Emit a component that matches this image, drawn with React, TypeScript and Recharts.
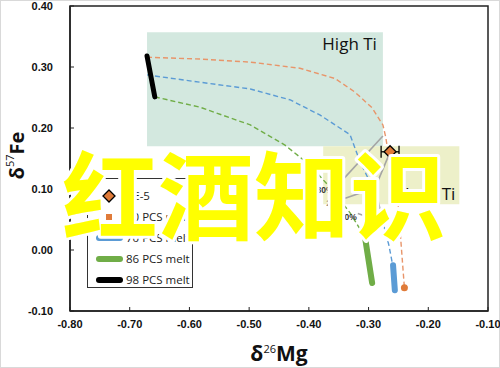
import {
  ComposedChart,
  Line,
  Scatter,
  XAxis,
  YAxis,
  ReferenceArea,
  ReferenceDot,
  ErrorBar,
  Legend,
  Label,
} from 'recharts'

type Pt = { x: number; y: number }

const xTicks = [-0.8, -0.7, -0.6, -0.5, -0.4, -0.3, -0.2, -0.1]
const yTicks = [-0.1, 0, 0.1, 0.2, 0.3, 0.4]

const toPts = (rows: number[][]): Pt[] => rows.map(([x, y]) => ({ x, y }))

// dashed melt paths
const pcs50Path = toPts([
  [-0.671, 0.316], [-0.582, 0.313], [-0.498, 0.308], [-0.415, 0.298], [-0.356, 0.281],
  [-0.323, 0.259], [-0.294, 0.233], [-0.276, 0.205], [-0.271, 0.184], [-0.266, 0.15],
  [-0.258, 0.115], [-0.251, 0.082], [-0.246, 0.016], [-0.24, -0.062],
])
const pcs70Path = toPts([
  [-0.671, 0.287], [-0.582, 0.275], [-0.498, 0.264], [-0.431, 0.246], [-0.381, 0.221],
  [-0.356, 0.205], [-0.331, 0.189], [-0.314, 0.144], [-0.297, 0.11], [-0.287, 0.079],
  [-0.276, 0.046], [-0.266, 0.008], [-0.259, -0.028],
])
const pcs86Path = toPts([
  [-0.658, 0.251], [-0.582, 0.234], [-0.498, 0.205], [-0.44, 0.172], [-0.398, 0.139],
  [-0.364, 0.102], [-0.331, 0.061], [-0.306, 0.021],
])

// final melt segments
const pcs50Melt = toPts([[-0.24, -0.062]])
const pcs70Melt = toPts([[-0.259, -0.025], [-0.256, -0.066]])
const pcs86Melt = toPts([[-0.306, 0.021], [-0.294, -0.054]])
const pcs98Melt = toPts([[-0.671, 0.318], [-0.658, 0.251]])

// mixing lines and their labels
const mixA = toPts([[-0.276, 0.187], [-0.348, 0.11]])
const mixB = toPts([[-0.266, 0.156], [-0.289, 0.102], [-0.339, 0.085]])
const mixC = toPts([[-0.289, 0.102], [-0.276, 0.046], [-0.318, 0.06]])
const mixLabels = [
  { x: -0.373, y: 0.098, text: '30%' },
  { x: -0.356, y: 0.077, text: '20%' },
  { x: -0.334, y: 0.054, text: '10%' },
]

const ce5 = [{ x: -0.264, y: 0.161, err: 0.015 }]

const legendItems = [
  { name: 'CE-5', kind: 'diamond', color: '#e07b39' },
  { name: '50 PCS melt', kind: 'square', color: '#e07b39' },
  { name: '70 PCS melt', kind: 'line', color: '#5b9bd5' },
  { name: '86 PCS melt', kind: 'line', color: '#70ad47' },
  { name: '98 PCS melt', kind: 'line', color: '#000000' },
]

const tickStyle = { fill: '#111', fontSize: 11, fontWeight: 700, fontFamily: 'Liberation Sans, Arial' }

function Diamond({ cx, cy }: { cx?: number; cy?: number }) {
  if (cx == null || cy == null) return null
  const r = 6
  return (
    <polygon
      points={`${cx},${cy - r} ${cx + r},${cy} ${cx},${cy + r} ${cx - r},${cy}`}
      fill="#e07b39"
      stroke="#000"
      strokeWidth={1.3}
    />
  )
}

function LegendBox() {
  return (
    <div
      style={{
        width: 106,
        height: 110,
        boxSizing: 'border-box',
        border: '1px solid #333',
        background: '#fff',
        paddingTop: 6,
        fontFamily: 'Open Sans',
        fontSize: 11.5,
        color: '#222',
      }}
    >
      {legendItems.map((it) => (
        <div key={it.name} style={{ height: 21, display: 'flex', alignItems: 'center' }}>
          <svg width={37} height={14} style={{ flex: 'none' }}>
            {it.kind === 'diamond' && (
              <polygon points="21,1 27,7 21,13 15,7" fill={it.color} stroke="#000" strokeWidth={1.3} />
            )}
            {it.kind === 'square' && <rect x={18} y={4} width={6} height={6} fill={it.color} />}
            {it.kind === 'line' && (
              <line x1={11} y1={7} x2={32} y2={7} stroke={it.color} strokeWidth={6} strokeLinecap="round" />
            )}
          </svg>
          <span style={{ marginLeft: 1 }}>{it.name}</span>
        </div>
      ))}
    </div>
  )
}

function YTitle({ viewBox }: any) {
  const cx = viewBox.x + 16
  const cy = viewBox.y + viewBox.height / 2 - 3
  return (
    <text
      x={cx}
      y={cy}
      transform={`rotate(-90 ${cx} ${cy})`}
      textAnchor="middle"
      dominantBaseline="central"
      fontFamily="Open Sans"
      fontWeight={700}
      fontSize={20}
      fill="#111"
    >
      δ
      <tspan dy={-7} fontSize={11} fontWeight={400}>57</tspan>
      <tspan dy={7}>Fe</tspan>
    </text>
  )
}

function XTitle({ viewBox }: any) {
  const cx = viewBox.x + viewBox.width / 2
  return (
    <text
      x={cx}
      y={361}
      textAnchor="middle"
      fontFamily="Open Sans"
      fontWeight={700}
      fontSize={21}
      fill="#111"
    >
      δ
      <tspan dy={-8} fontSize={11} fontWeight={400}>26</tspan>
      <tspan dy={8}>Mg</tspan>
    </text>
  )
}

const dashed = { strokeWidth: 1.4, strokeDasharray: '5 3', dot: false, isAnimationActive: false, type: 'linear' as const }
const thick = { strokeWidth: 6, strokeLinecap: 'round' as const, dot: false, isAnimationActive: false, type: 'linear' as const }

export default function App() {
  return (
    <div style={{ position: 'absolute', left: 0, top: 0, width: 500, height: 368, background: '#fff' }}>
      <div style={{ position: 'absolute', inset: 0, border: '1px solid #d9d9d9', boxSizing: 'border-box' }} />
      <ComposedChart width={500} height={368} margin={{ top: 6, right: 12, bottom: 0, left: 0 }}>
        <XAxis
          type="number"
          dataKey="x"
          domain={[-0.8, -0.1]}
          ticks={xTicks}
          allowDataOverflow
          height={57}
          tickSize={-4}
          tickMargin={13}
          tick={tickStyle}
          tickFormatter={(v: number) => v.toFixed(2)}
          axisLine={{ stroke: '#222', strokeWidth: 1.5 }}
          tickLine={{ stroke: '#222' }}
        >
          <Label content={<XTitle />} />
        </XAxis>
        <YAxis
          type="number"
          dataKey="y"
          domain={[-0.1, 0.4]}
          ticks={yTicks}
          allowDataOverflow
          width={70}
          tickSize={-4}
          tickMargin={21}
          tick={tickStyle}
          tickFormatter={(v: number) => v.toFixed(2)}
          axisLine={{ stroke: '#222', strokeWidth: 1.5 }}
          tickLine={{ stroke: '#222' }}
        >
          <Label content={<YTitle />} />
        </YAxis>
        <ReferenceArea x1={-0.671} x2={-0.276} y1={0.17} y2={0.357} fill="#d3e8df" fillOpacity={1} stroke="none">
          <Label value="High Ti" position="insideTopRight" offset={6} fill="#111" fontSize={17} fontFamily="Open Sans" />
        </ReferenceArea>
        <ReferenceArea x1={-0.376} x2={-0.148} y1={0.075} y2={0.17} fill="#edf0c9" fillOpacity={1} stroke="none">
          <Label value="Low Ti" position="insideBottomRight" offset={4} fill="#111" fontSize={17} fontFamily="Open Sans" />
        </ReferenceArea>
        <ReferenceArea x1={-0.8} x2={-0.1} y1={-0.1} y2={0.4} fill="none" stroke="#222" strokeWidth={1.5} />

        <Line data={mixA} dataKey="y" stroke="#a5a5a5" strokeWidth={1.6} dot={false} isAnimationActive={false} legendType="none" />
        <Line data={mixB} dataKey="y" stroke="#a5a5a5" strokeWidth={1.6} dot={false} isAnimationActive={false} legendType="none" />
        <Line data={mixC} dataKey="y" stroke="#a5a5a5" strokeWidth={1.6} dot={false} isAnimationActive={false} legendType="none" />
        {mixLabels.map((l) => (
          <ReferenceDot key={l.text} x={l.x} y={l.y} r={0} stroke="none"
            label={{ value: l.text, position: 'center', fontSize: 8.5, fontWeight: 700, fill: '#333', fontFamily: 'Liberation Sans' }} />
        ))}

        <Line data={pcs50Path} dataKey="y" stroke="#e8956a" {...dashed} legendType="none" />
        <Line data={pcs70Path} dataKey="y" stroke="#5b9bd5" {...dashed} legendType="none" />
        <Line data={pcs86Path} dataKey="y" stroke="#70ad47" {...dashed} legendType="none" />

        <Line data={pcs70Melt} dataKey="y" stroke="#5b9bd5" {...thick} name="70 PCS melt" />
        <Line data={pcs86Melt} dataKey="y" stroke="#70ad47" {...thick} name="86 PCS melt" />
        <Line data={pcs98Melt} dataKey="y" stroke="#000" {...thick} strokeWidth={5} name="98 PCS melt" />
        <Scatter data={pcs50Melt} dataKey="y" fill="#e07b39" isAnimationActive={false} name="50 PCS melt"
          shape={(p: any) => <circle cx={p.cx} cy={p.cy} r={3.5} fill="#e07b39" />} />
        <Scatter data={ce5} dataKey="y" isAnimationActive={false} name="CE-5" shape={(p: any) => <Diamond cx={p.cx} cy={p.cy} />}>
          <ErrorBar dataKey="err" direction="x" width={6} stroke="#000" strokeWidth={1.3} />
        </Scatter>

        <Legend
          content={<LegendBox />}
          layout="horizontal"
          verticalAlign="middle"
          align="center"
          wrapperStyle={{ left: 87, top: 178, right: 'auto', bottom: 'auto', width: 'auto' }}
        />
      </ComposedChart>
      <svg width={500} height={368} style={{ position: 'absolute', left: 0, top: 0, pointerEvents: 'none' }}>
        <text
          x={62}
          y={232}
          fontFamily="Noto Sans CJK SC"
          fontWeight={700}
          fontSize={96}
          fill="#ffff00"
          stroke="#ffffff"
          strokeWidth={6}
          strokeLinejoin="round"
          paintOrder="stroke"
        >
          红酒知识
        </text>
      </svg>
    </div>
  )
}
